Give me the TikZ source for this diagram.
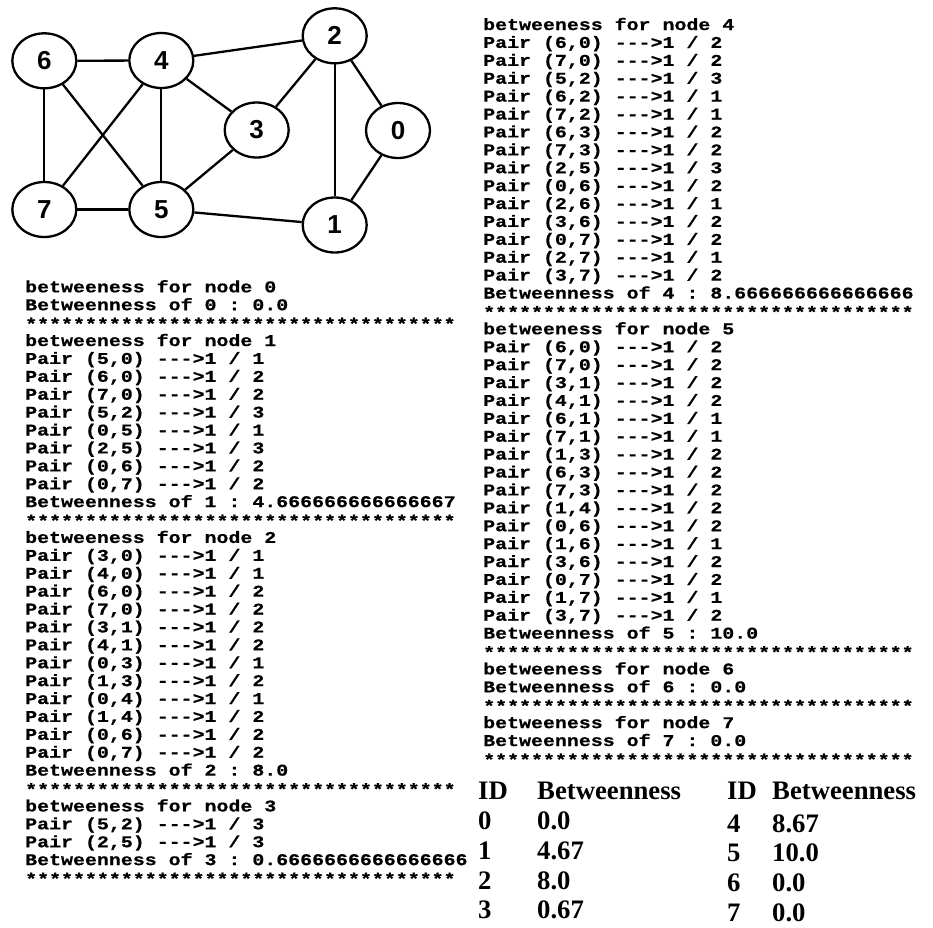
\documentclass[tikz,border=0pt]{standalone}
\usepackage{fontspec}
\usetikzlibrary{shapes.geometric}
\newfontfamily\consfont[Ligatures=TeXOff,FakeStretch=1.215,FakeBold=0.6]{Liberation Mono}
\newfontfamily\tabfont{Liberation Serif}
\newfontfamily\gfont{Liberation Sans}
\newcommand\starline{\raisebox{-1.5pt}{************************************}}
\newcommand\pr[2]{Pair (#1) --->1 / #2}
\frenchspacing
\begin{document}
\begin{tikzpicture}[x=1pt,y=-1pt,
  gnode/.style={ellipse,draw,line width=2.3pt,minimum width=64pt,minimum height=55pt,inner sep=0pt,font=\gfont\bfseries\fontsize{26}{26}\selectfont},
  edge/.style={line width=2.3pt},
  cons/.style={anchor=base west,inner sep=0pt,text height=12pt,text depth=4pt,font=\consfont\bfseries\fontsize{16.4}{18}\selectfont},
  tab/.style={anchor=base west,inner sep=0pt,text height=19pt,text depth=0.5pt,font=\tabfont\bfseries\fontsize{26.7}{27}\selectfont}]
\useasboundingbox (0,0) rectangle (933,927);
% graph
\node[gnode] (n6) at (44.3,60.8) {6};
\node[gnode] (n4) at (161.3,60.5) {4};
\node[gnode] (n2) at (334.7,35.8) {2};
\node[gnode] (n3) at (256.7,130) {3};
\node[gnode] (n0) at (398,130.5) {0};
\node[gnode] (n7) at (44.3,209.5) {7};
\node[gnode] (n5) at (161.3,209.5) {5};
\node[gnode] (n1) at (334.7,225) {1};
\draw[edge] (n6) -- (n4);
\draw[edge] (n6) -- (n7);
\draw[edge] (n6) -- (n5);
\draw[edge] (n4) -- (n7);
\draw[edge] (n4) -- (n5);
\draw[edge] (n4) -- (n2);
\draw[edge] (n4) -- (n3);
\draw[edge] (n2) -- (n3);
\draw[edge] (n2) -- (n1);
\draw[edge] (n2) -- (n0);
\draw[edge] (n0) -- (n1);
\draw[edge] (n3) -- (n5);
\draw[edge] (n7) -- (n5);
\draw[edge] (n5) -- (n1);
% left console column
\foreach \t [count=\i from 0] in {
  {betweeness for node 0},{Betweenness of 0 : 0.0},{\starline},
  {betweeness for node 1},
  {\pr{5,0}{1}},{\pr{6,0}{2}},{\pr{7,0}{2}},{\pr{5,2}{3}},
  {\pr{0,5}{1}},{\pr{2,5}{3}},{\pr{0,6}{2}},{\pr{0,7}{2}},
  {Betweenness of 1 : 4.666666666666667},{\starline},
  {betweeness for node 2},
  {\pr{3,0}{1}},{\pr{4,0}{1}},{\pr{6,0}{2}},{\pr{7,0}{2}},
  {\pr{3,1}{2}},{\pr{4,1}{2}},{\pr{0,3}{1}},{\pr{1,3}{2}},
  {\pr{0,4}{1}},{\pr{1,4}{2}},{\pr{0,6}{2}},{\pr{0,7}{2}},
  {Betweenness of 2 : 8.0},{\starline},
  {betweeness for node 3},
  {\pr{5,2}{3}},{\pr{2,5}{3}},
  {Betweenness of 3 : 0.6666666666666666},{\starline}}
  {\node[cons] (la\i) at (25,{292.3+17.9*\i}) {\t};}
% right console column
\foreach \t [count=\i from 0] in {
  {betweeness for node 4},
  {\pr{6,0}{2}},{\pr{7,0}{2}},{\pr{5,2}{3}},{\pr{6,2}{1}},{\pr{7,2}{1}},
  {\pr{6,3}{2}},{\pr{7,3}{2}},{\pr{2,5}{3}},{\pr{0,6}{2}},{\pr{2,6}{1}},
  {\pr{3,6}{2}},{\pr{0,7}{2}},{\pr{2,7}{1}},{\pr{3,7}{2}},
  {Betweenness of 4 : 8.666666666666666},{\starline},
  {betweeness for node 5},
  {\pr{6,0}{2}},{\pr{7,0}{2}},{\pr{3,1}{2}},{\pr{4,1}{2}},
  {\pr{6,1}{1}},{\pr{7,1}{1}},{\pr{1,3}{2}},{\pr{6,3}{2}},
  {\pr{7,3}{2}},{\pr{1,4}{2}},{\pr{0,6}{2}},{\pr{1,6}{1}},
  {\pr{3,6}{2}},{\pr{0,7}{2}},{\pr{1,7}{1}},{\pr{3,7}{2}},
  {Betweenness of 5 : 10.0},{\starline},
  {betweeness for node 6},{Betweenness of 6 : 0.0},{\starline},
  {betweeness for node 7},{Betweenness of 7 : 0.0},{\starline}}
  {\node[cons] (ra\i) at (483,{30+17.9*\i}) {\t};}
% summary tables
\node[tab] (th1) at (478,799) {ID};
\node[tab] (tv1) at (537,799) {Betweenness};
\node[tab] (id0) at (478,829) {0};  \node[tab] (v0) at (537,829) {0.0};
\node[tab] (id1) at (478,859) {1};  \node[tab] (v1) at (537,859) {4.67};
\node[tab] (id2) at (478,889) {2};  \node[tab] (v2) at (537,889) {8.0};
\node[tab] (id3) at (478,918) {3};  \node[tab] (v3) at (537,918) {0.67};
\node[tab] (th2) at (727,799) {ID};
\node[tab] (tv2) at (772,799) {Betweenness};
\node[tab] (id4) at (727,832) {4};  \node[tab] (v4) at (772,832) {8.67};
\node[tab] (id5) at (727,861) {5};  \node[tab] (v5) at (772,861) {10.0};
\node[tab] (id6) at (727,891) {6};  \node[tab] (v6) at (772,891) {0.0};
\node[tab] (id7) at (727,921) {7};  \node[tab] (v7) at (772,921) {0.0};
\end{tikzpicture}
\end{document}
